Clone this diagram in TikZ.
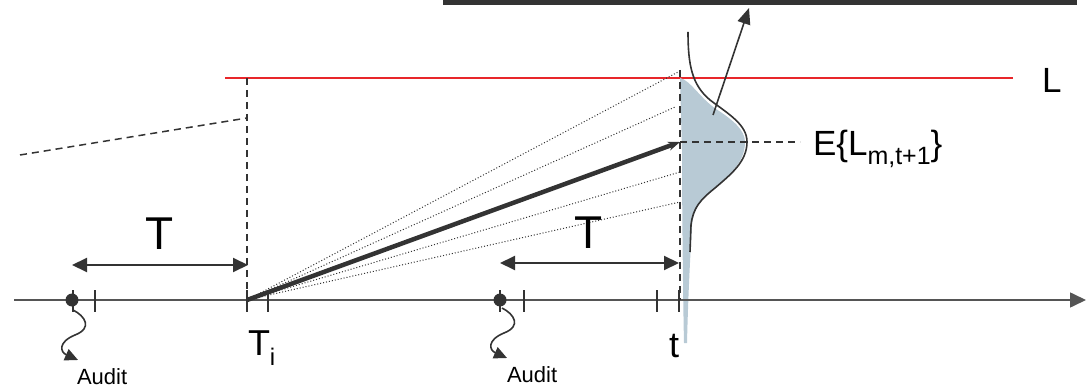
\documentclass[tikz,border=0pt]{standalone}
\usepackage{fontspec}
\setmainfont{Liberation Sans}
\usetikzlibrary{arrows.meta}
\definecolor{ink}{HTML}{333333}
\definecolor{axisgray}{HTML}{555555}
\definecolor{distfill}{HTML}{B8CAD5}
\definecolor{redline}{HTML}{E8262A}
\tikzset{
  axisline/.style={draw=axisgray,line width=1.6pt},
  tickmark/.style={draw=ink,line width=1.6pt},
  dashline/.style={draw=ink,line width=1.5pt,dash pattern=on 7pt off 5pt},
  dotline/.style={draw=ink,line width=1pt,dash pattern=on 1pt off 2pt},
  spanarrow/.style={draw=ink,line width=2pt,{Triangle[length=15pt,width=14pt]}-{Triangle[length=15pt,width=14pt]}},
  squiggle/.style={draw=ink,line width=1.6pt,-{Triangle[length=13pt,width=12pt]}},
  lbl/.style={inner sep=0pt,outer sep=0pt,text=black},
}
\begin{document}
\begin{tikzpicture}[x=1pt,y=-1pt]
\useasboundingbox (0,0) rectangle (1086,387);
% top bar
\fill[ink] (443,0) rectangle (1077,5);
% red limit line
\coordinate (rs) at (225,78);
\coordinate (re) at (1013,78);
\draw[redline,line width=2pt] (rs) -- (re);
\node[lbl,anchor=base west,font=\fontsize{35}{35}\selectfont] (Llbl) at (1042,93) {L};
% distribution fill
\fill[distfill] (680,78) .. controls (690,80) and (700,98) .. (716,109)
  .. controls (733,120) and (745,130) .. (745,142)
  .. controls (745,160) and (733,172) .. (718,185)
  .. controls (704,197) and (694,205) .. (692,225)
  .. controls (690,260) and (688,300) .. (687,343) -- (684,343)
  .. controls (683,300) and (682,200) .. (682,150) -- cycle;
% axis
\coordinate (axS) at (14,300);
\coordinate (axE) at (1086,300);
\draw[axisline,-{Triangle[length=16pt,width=15pt]}] (axS) -- (axE);
% dashed verticals
\coordinate (Ti) at (247,300);
\coordinate (TiTop) at (247,78);
\coordinate (tt) at (680,300);
\coordinate (tTop) at (680,70);
\draw[dashline] (TiTop) -- (Ti);
\draw[dashline] (tTop) -- (tt);
% left dashed trend
\coordinate (ls) at (20,155);
\coordinate (le) at (247,118);
\draw[dashline] (ls) -- (le);
% ticks
\foreach \x in {73,95,247,268,500,524,657,679}
  \draw[tickmark] (\x,290) -- (\x,312);
% audit dots
\fill[ink] (72,300) circle (6.5pt);
\fill[ink] (500,300) circle (6.5pt);
% dotted fan
\coordinate (d1) at (680,71);
\coordinate (d2) at (675,107);
\coordinate (d3) at (680,172);
\coordinate (d4) at (680,202);
\foreach \d in {d1,d2,d3,d4}
  \draw[dotline] (Ti) -- (\d);
% thick expected path
\coordinate (Em) at (680,142);
\draw[ink,line width=4.5pt,-{Stealth[length=12pt,width=9pt]}] (Ti) -- (Em);
% E dashed
\coordinate (Ee) at (800,142);
\draw[dashline] (Em) -- (Ee);
\node[lbl,anchor=base west,font=\fontsize{35}{35}\selectfont] (Elbl) at (813,156)
  {E\{L\raisebox{-9pt}{\fontsize{25}{25}\selectfont m,t+1}\}};
% density curve
\draw[ink,line width=1.6pt] (688,32) .. controls (688,65) and (692,85) .. (710,100)
  .. controls (730,115) and (747,125) .. (747,142)
  .. controls (747,162) and (730,175) .. (715,188)
  .. controls (700,200) and (693,208) .. (691,225) -- (690,252);
% arrow up
\coordinate (as) at (713,115);
\coordinate (ae) at (749,8);
\draw[ink,line width=1.6pt,-{Triangle[length=16pt,width=13pt]}] (as) -- (ae);
% T span arrows
\coordinate (s1a) at (72,265);
\coordinate (s1b) at (248,265);
\draw[spanarrow] (s1a) -- (s1b);
\node[lbl,anchor=base,font=\fontsize{46}{46}\selectfont] (T1) at (160,250) {T};
\coordinate (s2a) at (500,263);
\coordinate (s2b) at (679,263);
\draw[spanarrow] (s2a) -- (s2b);
\node[lbl,anchor=base,font=\fontsize{46}{46}\selectfont] (T2) at (589,248) {T};
% axis labels
\node[lbl,anchor=base west,font=\fontsize{36}{36}\selectfont] (Tilbl) at (248,355)
  {T\raisebox{-10pt}{\fontsize{24}{24}\selectfont i}};
\node[lbl,anchor=base,font=\fontsize{36}{36}\selectfont] (tlbl) at (674,357) {t};
% audits
\coordinate (q1) at (73,310);
\coordinate (q1e) at (78,360);
\draw[squiggle] (q1) .. controls (85,316) and (93,328) .. (75,335)
  .. controls (58,342) and (60,352) .. (q1e);
\node[lbl,anchor=base west,font=\fontsize{22}{22}\selectfont] (A1) at (77,384) {Audit};
\coordinate (q2) at (502,308);
\coordinate (q2e) at (507,358);
\draw[squiggle] (q2) .. controls (514,314) and (522,326) .. (504,333)
  .. controls (487,340) and (489,350) .. (q2e);
\node[lbl,anchor=base west,font=\fontsize{22}{22}\selectfont] (A2) at (507,382) {Audit};
\end{tikzpicture}
\end{document}
